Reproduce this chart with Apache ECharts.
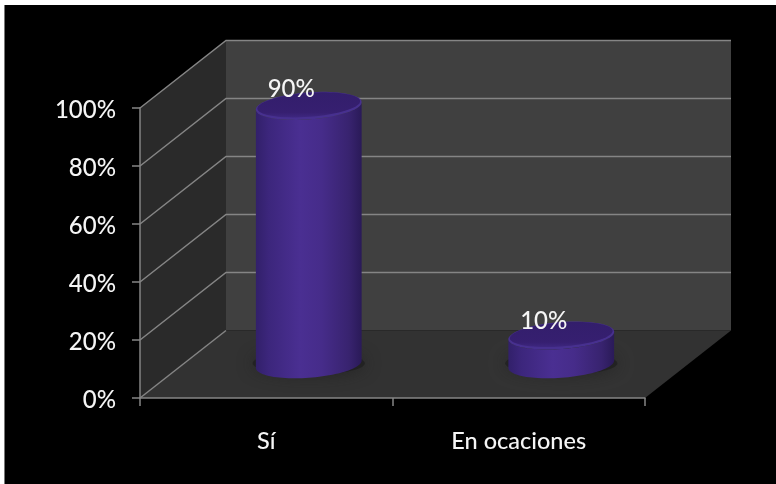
<!DOCTYPE html>
<html><head><meta charset="utf-8">
<style>html,body{margin:0;padding:0;background:#fff}#c{width:776px;height:484px;filter:blur(0.4px)}</style>
<script src="https://cdn.jsdelivr.net/npm/echarts@6/dist/echarts.min.js"></script>
</head><body><div id="c"></div>
<script>
const categories = ['Sí', 'En ocaciones'];
const values = [90, 10];
const yTicks = [0, 20, 40, 60, 80, 100];

const DEPTH_X = 86, DEPTH_Y = -67.5;   // oblique depth of the 3D box
const chart = echarts.init(document.getElementById('c'), null, {renderer: 'canvas'});
const FONT = 'Lato';
const GRID_LINE = '#858585';

function ellipsePts(cx, cy, rx, ry, tilt, t0, t1, n) {
  const pts = [];
  const c = Math.cos(tilt), s = Math.sin(tilt);
  for (let i = 0; i <= n; i++) {
    const t = t0 + (t1 - t0) * i / n;
    const x = rx * Math.cos(t), y = ry * Math.sin(t);
    pts.push([cx + x * c - y * s, cy + x * s + y * c]);
  }
  return pts;
}

function renderBox(params, api) {
  const sys = params.coordSys;
  const xL = sys.x, xR = sys.x + sys.width;
  const y0 = api.coord([0, 0])[1], y100 = api.coord([0, 100])[1];
  const children = [];
  const poly = (points, fill) => children.push({type: 'polygon', shape: {points}, style: {fill}});
  poly([[xL + DEPTH_X, y0 + DEPTH_Y], [xR + DEPTH_X, y0 + DEPTH_Y], [xR + DEPTH_X, y100 + DEPTH_Y], [xL + DEPTH_X, y100 + DEPTH_Y]], '#404040');
  poly([[xL, y0], [xL + DEPTH_X, y0 + DEPTH_Y], [xL + DEPTH_X, y100 + DEPTH_Y], [xL, y100]], '#2a2a2a');
  poly([[xL, y0], [xR, y0], [xR + DEPTH_X, y0 + DEPTH_Y], [xL + DEPTH_X, y0 + DEPTH_Y]], '#323232');
  yTicks.forEach(v => {
    const y = api.coord([0, v])[1];
    const style = {stroke: GRID_LINE, lineWidth: 1.5, fill: null};
    const pts = v > 0
      ? [[xL, y], [xL + DEPTH_X, y + DEPTH_Y], [xR + DEPTH_X, y + DEPTH_Y]]
      : [[xL, y], [xL + DEPTH_X, y + DEPTH_Y]];
    children.push({type: 'polyline', shape: {points: pts}, style});
  });
  return {type: 'group', children};
}

function renderCylinder(params, api) {
  const idx = api.value(0), val = api.value(1);
  const front = api.coord([idx, 0]);
  const topPt = api.coord([idx, val]);
  const band = api.size([1, 0])[0];
  const rx = band * 0.21, ry = 13.5, tilt = -0.075;
  const cx = front[0] + DEPTH_X / 2 - 0.5;
  const cy = front[1] + DEPTH_Y / 2;
  const h = (front[1] - topPt[1]) * 0.99;
  const ty = cy - h;
  const t0 = Math.atan(-(ry / rx) * Math.tan(tilt));
  const basePts = ellipsePts(cx, cy, rx, ry, tilt, t0, t0 + Math.PI, 48);
  const grad = {type: 'linear', x: 0, y: 0, x2: 1, y2: 0, colorStops: [
    {offset: 0, color: '#32206a'}, {offset: 0.12, color: '#3c267c'}, {offset: 0.42, color: '#4a2f92'},
    {offset: 0.62, color: '#462c8a'}, {offset: 0.88, color: '#38236f'}, {offset: 1, color: '#2a1a58'}]};
  const topGrad = {type: 'linear', x: 0, y: 0, x2: 0, y2: 1, colorStops: [
    {offset: 0, color: '#331e6c'}, {offset: 0.8, color: '#361f70'}, {offset: 1, color: '#3e2780'}]};
  return {type: 'group', children: [
    {type: 'ellipse', shape: {cx: cx, cy: cy - 1, rx: rx + 3, ry: ry - 2},
      style: {fill: 'rgba(30,30,30,0.7)', shadowBlur: 16, shadowColor: 'rgba(28,28,28,0.9)'}},
    {type: 'polygon', shape: {points: basePts.concat(ellipsePts(cx, ty, rx, ry, tilt, t0 + Math.PI, t0, 48))}, style: {fill: grad}},
    {type: 'polygon', shape: {points: ellipsePts(cx, ty, rx, ry, tilt, 0, 2 * Math.PI, 72)}, style: {fill: '#47308f'}},
    {type: 'polygon', shape: {points: ellipsePts(cx, ty - 1, rx - 1.5, ry - 1.5, tilt, 0, 2 * Math.PI, 72)}, style: {fill: topGrad}},
    {type: 'text', style: {text: val + '%', x: front[0] + 25, y: ty - (val > 50 ? 16.5 : 14.5), align: 'center', verticalAlign: 'middle',
      fill: '#f5f5f5', font: '500 24px ' + FONT}}
  ]};
}

chart.setOption({
  backgroundColor: '#000',
  animation: false,
  graphic: [
    {type: 'rect', silent: true, z: 100, shape: {x: 0, y: 0, width: 776, height: 5}, style: {fill: '#fff'}},
    {type: 'rect', silent: true, z: 100, shape: {x: 0, y: 0, width: 4, height: 484}, style: {fill: '#fff'}},
    {type: 'rect', silent: true, z: 100, shape: {x: 4, y: 5, width: 1, height: 479}, style: {fill: '#777'}}
  ],
  grid: {left: 140, right: 131, top: 108, bottom: 86, containLabel: false},
  xAxis: {
    type: 'category', data: categories,
    axisLine: {lineStyle: {color: GRID_LINE, width: 1.5}},
    axisTick: {show: true, length: 8, lineStyle: {color: GRID_LINE, width: 1.5}},
    axisLabel: {color: '#f5f5f5', fontFamily: FONT, fontWeight: 500, fontSize: 23.5, margin: 31},
    z: 5
  },
  yAxis: {
    type: 'value', min: 0, max: 100, interval: 20,
    axisLine: {show: true, lineStyle: {color: GRID_LINE, width: 1.5}},
    axisTick: {show: true, length: 8, lineStyle: {color: GRID_LINE, width: 1.5}},
    axisLabel: {color: '#f5f5f5', fontFamily: FONT, fontWeight: 500, fontSize: 24, margin: 24, verticalAlign: 'top', lineHeight: 5, formatter: '{value}%'},
    splitLine: {show: false},
    z: 5
  },
  series: [
    {type: 'custom', coordinateSystem: 'cartesian2d', renderItem: renderBox, data: [[0, 0]], z: 1, silent: true, clip: false},
    {type: 'custom', coordinateSystem: 'cartesian2d', renderItem: renderCylinder, data: values.map((v, i) => [i, v]), encode: {x: 0, y: 1}, z: 10, silent: true, clip: false}
  ]
});
</script></body></html>
